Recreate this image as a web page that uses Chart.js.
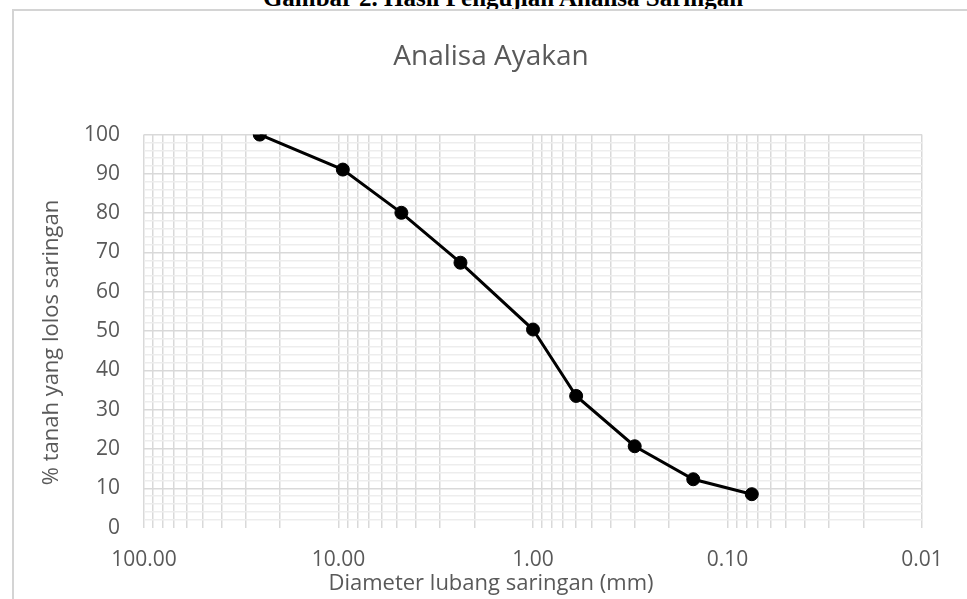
<!DOCTYPE html>
<html lang="id">
<head>
  <meta charset="UTF-8">
  <title>Analisa Ayakan</title>
  <script src="https://cdn.jsdelivr.net/npm/chart.js"></script>
  <style>
    html, body {
      margin: 0;
      padding: 0;
      background: #fff;
      width: 967px;
      height: 599px;
      overflow: hidden;
    }
    .caption {
      position: absolute;
      top: -15px;
      left: 0;
      width: 1006px;
      text-align: center;
      font: bold 25px/25px "Liberation Serif", "Times New Roman", serif;
      color: #000;
      z-index: 0;
    }
    .frame {
      position: absolute;
      left: 12px;
      top: 9px;
      width: 980px;
      height: 620px;
      background: #fff;
      border-left: 2px solid #d4d4d4;
      border-top: 2px solid #d4d4d4;
      z-index: 1;
    }
    #sieveChart {
      position: absolute;
      left: 0;
      top: 0;
      z-index: 2;
    }
  </style>
</head>
<body>
  <div class="caption">Gambar 2. Hasil Pengujian Analisa Saringan</div>
  <div class="frame"></div>
  <canvas id="sieveChart" width="967" height="599"></canvas>

  <script>
    // sieve opening (mm) and % passing
    var sieveSizes = [25.4, 9.5, 4.75, 2.36, 1.0, 0.6, 0.3, 0.15, 0.075];
    var percentPassing = [100, 91.1, 80.1, 67.4, 50.4, 33.5, 20.7, 12.3, 8.5];

    // log axis ticks: 1..9 x 10^n between 0.01 and 100
    var decades = [0.01, 0.1, 1, 10];
    var multipliers = [1, 2, 3, 4, 5, 6, 7, 8, 9];
    var xTickValues = [];
    decades.forEach(function(d) {
      multipliers.forEach(function(m) { xTickValues.push(+(m * d).toPrecision(3)); });
    });
    xTickValues.push(100);

    var textGrey = '#595959';
    var gridGrey = '#d9d9d9';
    var minorGrey = '#ededed';

    function isPowerOfTen(v) {
      var l = Math.log10(v);
      return Math.abs(l - Math.round(l)) < 1e-9;
    }

    var points = sieveSizes.map(function(s, i) {
      return { x: s, y: percentPassing[i] };
    });

    var ctx = document.getElementById('sieveChart').getContext('2d');
    var sieveChart = new Chart(ctx, {
      type: 'scatter',
      data: {
        datasets: [{
          label: 'Analisa Ayakan',
          data: points,
          showLine: true,
          borderColor: '#000',
          borderWidth: 3,
          backgroundColor: '#000',
          pointRadius: 6.5,
          pointBorderWidth: 1,
          pointBackgroundColor: '#000',
          pointBorderColor: '#000'
        }]
      },
      options: {
        responsive: false,
        animation: false,
        layout: {
          padding: { left: 60, right: 45, top: 0, bottom: 0 }
        },
        plugins: {
          legend: { display: false },
          tooltip: { enabled: false },
          title: {
            display: true,
            text: 'Analisa Ayakan',
            color: textGrey,
            font: { family: 'Open Sans', size: 28, weight: 'normal' },
            padding: { top: 40, bottom: 61 }
          },
          subtitle: {
            display: true,
            position: 'bottom',
            text: 'Diameter lubang saringan (mm)',
            color: textGrey,
            font: { family: 'Open Sans', size: 22, weight: 'normal' },
            padding: { top: 0, bottom: 2 }
          }
        },
        scales: {
          x: {
            type: 'logarithmic',
            min: 0.01,
            max: 100,
            reverse: true,
            border: { display: false },
            grid: {
              color: gridGrey,
              lineWidth: 1.5,
              drawTicks: false
            },
            ticks: {
              autoSkip: false,
              maxRotation: 0,
              padding: 20,
              color: textGrey,
              font: { family: 'Open Sans', size: 21 },
              callback: function(value) {
                return isPowerOfTen(value) ? value.toFixed(2) : '';
              }
            },
            afterBuildTicks: function(scale) {
              scale.ticks = xTickValues.map(function(v) { return { value: v }; });
            },
            afterFit: function(scale) {
              scale.height = 43;
            }
          },
          y: {
            min: 0,
            max: 100,
            border: { display: false },
            grid: {
              drawTicks: false,
              lineWidth: 1.5,
              color: function(c) {
                var v = c.tick.value;
                if (v === 0) return 'rgba(0,0,0,0)';
                return v % 10 === 0 ? gridGrey : minorGrey;
              }
            },
            ticks: {
              stepSize: 2,
              autoSkip: false,
              padding: 24,
              color: textGrey,
              font: { family: 'Open Sans', size: 21 },
              callback: function(value) {
                return value % 10 === 0 ? value : '';
              }
            },
            title: {
              display: true,
              // trailing spaces nudge the rotated label a little lower, as in the original
              text: '% tanah yang lolos saringan    ',
              color: textGrey,
              font: { family: 'Open Sans', size: 22, weight: 'normal' },
              padding: { top: -21, bottom: 0 }
            },
            afterFit: function(scale) {
              scale.width = 84;
            }
          }
        }
      }
    });
  </script>
</body>
</html>
